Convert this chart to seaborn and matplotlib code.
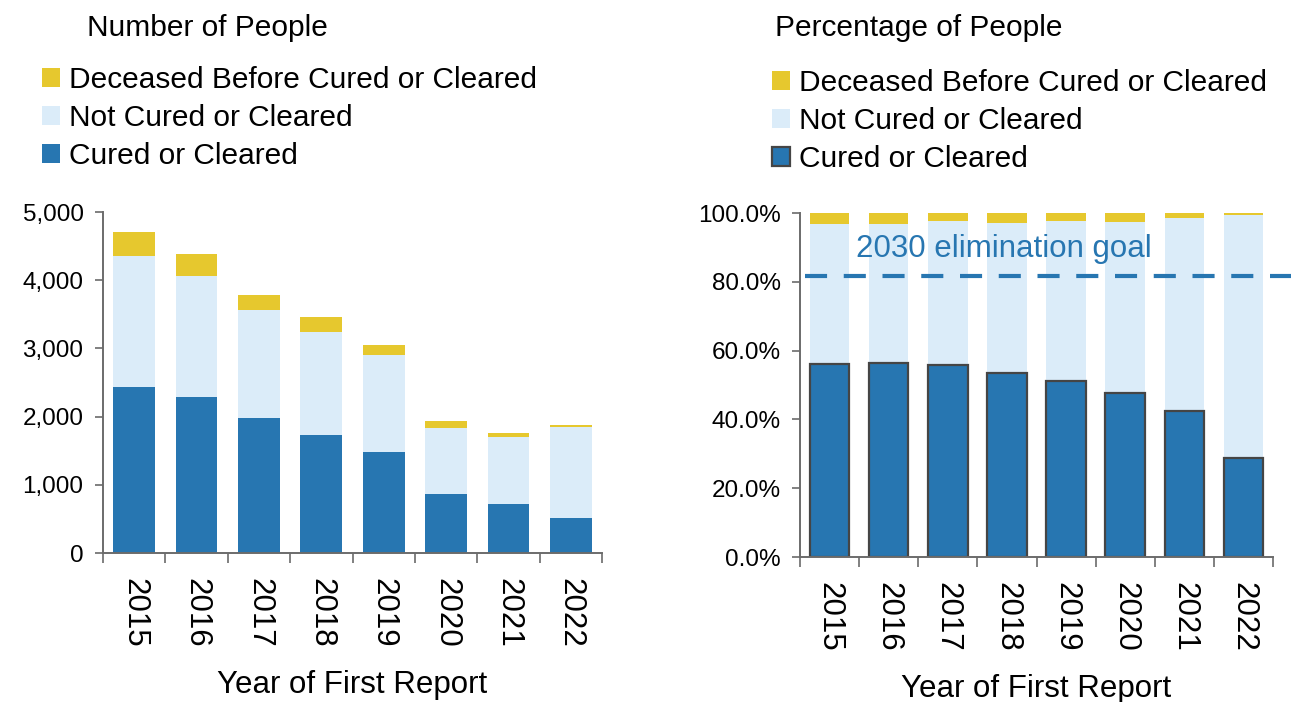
import numpy as np
import pandas as pd
import matplotlib
matplotlib.use('Agg')
import matplotlib.pyplot as plt
from matplotlib.patches import Patch
from matplotlib.ticker import FuncFormatter
import seaborn as sns

# data
years = ['2015', '2016', '2017', '2018', '2019', '2020', '2021', '2022']
cured_n = [2435, 2290, 1985, 1730, 1480, 870, 715, 515]
not_cured_n = [1920, 1775, 1585, 1505, 1430, 970, 990, 1335]
deceased_n = [350, 315, 220, 220, 145, 100, 50, 20]

cured_pct = [56.1, 56.5, 55.7, 53.5, 51.2, 47.8, 42.5, 28.7]
not_cured_pct = [40.8, 40.4, 42.1, 43.7, 46.6, 49.5, 56.0, 70.8]
deceased_pct = [3.1, 3.1, 2.2, 2.8, 2.2, 2.7, 1.5, 0.5]

goal_pct = 81.6

labels = ['Deceased Before Cured or Cleared', 'Not Cured or Cleared', 'Cured or Cleared']
c_dark = '#2776b1'
c_light = '#dbecf9'
c_yellow = '#e6c82e'
c_edge = '#454545'
c_spine = '#6b6b6b'

sns.set_style('ticks')
plt.rcParams['font.family'] = ['Liberation Sans', 'DejaVu Sans']
plt.rcParams['text.color'] = 'black'
plt.rcParams['axes.labelcolor'] = 'black'

fig = plt.figure(figsize=(12.91, 7.02), dpi=100)
ax1 = fig.add_axes([103 / 1291, 1 - 553 / 702, 499 / 1291, 341 / 702])
ax2 = fig.add_axes([800 / 1291, 1 - 557 / 702, 473 / 1291, 344 / 702])


def stacked(ax, cured, not_cured, deceased, edge):
    df = pd.DataFrame({'year': years, 'cured': cured,
                       'not_cured': not_cured, 'deceased': deceased})
    df['mid'] = df['cured'] + df['not_cured']
    df['top'] = df['mid'] + df['deceased']
    # draw tallest first so the shorter ones sit on top
    sns.barplot(data=df, x='year', y='top', color=c_yellow, saturation=1,
                width=0.67, linewidth=0, ax=ax)
    sns.barplot(data=df, x='year', y='mid', color=c_light, saturation=1,
                width=0.67, linewidth=0, ax=ax)
    if edge:
        sns.barplot(data=df, x='year', y='cured', color=c_dark, saturation=1,
                    width=0.67, edgecolor=c_edge, linewidth=1.6, ax=ax)
    else:
        sns.barplot(data=df, x='year', y='cured', color=c_dark, saturation=1,
                    width=0.67, linewidth=0, ax=ax)


stacked(ax1, cured_n, not_cured_n, deceased_n, False)
stacked(ax2, cured_pct, not_cured_pct, deceased_pct, True)

ax1.set_ylim(0, 5000)
ax1.set_yticks(np.arange(0, 5001, 1000))
ax1.yaxis.set_major_formatter(FuncFormatter(lambda v, p: '{:,.0f}'.format(v)))
ax2.set_ylim(0, 100)
ax2.set_yticks(np.arange(0, 101, 20))
ax2.yaxis.set_major_formatter(FuncFormatter(lambda v, p: '{:.1f}%'.format(v)))

for ax in (ax1, ax2):
    ax.set_xlim(-0.5, 7.5)
    ax.set_xticks(np.arange(-0.5, 8, 1), minor=True)
    ax.tick_params(axis='x', which='major', length=0, pad=18, labelsize=22.5,
                   labelrotation=270, labelcolor='black')
    ax.tick_params(axis='x', which='minor', length=7, width=1.2, color=c_spine)
    ax.tick_params(axis='y', length=6, width=1.2, color=c_spine, labelsize=17.5,
                   pad=8, labelcolor='black')
    for lab in ax.get_xticklabels():
        lab.set_va('top')
    for s in ('top', 'right'):
        ax.spines[s].set_visible(False)
    for s in ('left', 'bottom'):
        ax.spines[s].set_color(c_spine)
        ax.spines[s].set_linewidth(1.4)
    ax.set_ylabel('')
    ax.set_xlabel('Year of First Report', fontsize=22.5, labelpad=16)

# goal line
ax2.axhline(goal_pct, xmin=0.011, xmax=1.04, color=c_dark, linewidth=3,
            dashes=(5.3, 4), clip_on=False, zorder=5)
ax2.text(0.45, 89.6, '2030 elimination goal', color=c_dark, fontsize=22.5,
         ha='left', va='center')

# titles
fig.text(87 / 1291, 1 - 28 / 702, 'Number of People', fontsize=21.5, va='center', ha='left')
fig.text(775 / 1291, 1 - 28 / 702, 'Percentage of People', fontsize=21.5, va='center', ha='left')

# legends
h1 = [Patch(facecolor=c_yellow, edgecolor='none'),
      Patch(facecolor=c_light, edgecolor='none'),
      Patch(facecolor=c_dark, edgecolor='none')]
h2 = [Patch(facecolor=c_yellow, edgecolor='none'),
      Patch(facecolor=c_light, edgecolor='none'),
      Patch(facecolor=c_dark, edgecolor=c_edge, linewidth=1.6)]
legend_kw = dict(loc='upper left', frameon=False, fontsize=21.5, handlelength=0.6,
                 handleheight=0.6, handletextpad=0.3, labelspacing=0.33,
                 borderpad=0, borderaxespad=0)
fig.legend(h1, labels, bbox_to_anchor=(42 / 1291, 1 - 66 / 702), **legend_kw)
fig.legend(h2, labels, bbox_to_anchor=(772 / 1291, 1 - 69 / 702), **legend_kw)

fig.savefig('out.png', dpi=100)
